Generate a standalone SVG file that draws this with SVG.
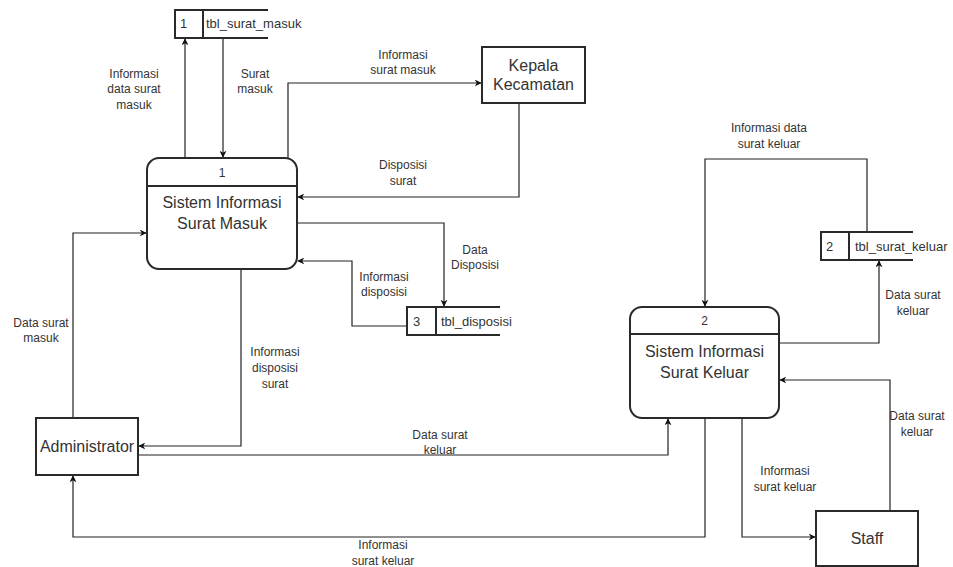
<svg xmlns="http://www.w3.org/2000/svg" width="953" height="567" viewBox="0 0 953 567">
<style>
.bg{fill:#fff}
.node{fill:#fff;stroke:#2a2a2a;stroke-width:2}
.store{fill:none;stroke:#2a2a2a;stroke-width:2}
.edge{fill:none;stroke:#222;stroke-width:1.2}
.t{font-family:"Liberation Sans",Arial,sans-serif;fill:#333;text-anchor:middle}
.lbl{font-size:12px}
.nt{font-size:16px}
.st{font-size:13px;text-anchor:start}
</style>
<defs>
<marker id="arr" viewBox="0 0 10 10" refX="9" refY="5" markerWidth="7" markerHeight="7" orient="auto" markerUnits="userSpaceOnUse">
<path d="M0,0 L10,5 L0,10 L3,5 Z" fill="#111"/>
</marker>
</defs>
<rect class="bg" x="0" y="0" width="953" height="567"/>

<g id="connectors">
<path class="edge" marker-end="url(#arr)" d="M185,158 L185,39"/>
<path class="edge" marker-end="url(#arr)" d="M223,38 L223,157"/>
<path class="edge" marker-end="url(#arr)" d="M288,158 L288,83 L481,83"/>
<path class="edge" marker-end="url(#arr)" d="M519,104 L519,197 L298,197"/>
<path class="edge" marker-end="url(#arr)" d="M297,223 L444,223 L444,306"/>
<path class="edge" marker-end="url(#arr)" d="M407,326 L352,326 L352,261 L298,261"/>
<path class="edge" marker-end="url(#arr)" d="M73,418 L73,233 L146,233"/>
<path class="edge" marker-end="url(#arr)" d="M241,270 L241,446 L139,446"/>
<path class="edge" marker-end="url(#arr)" d="M139,455 L668,455 L668,419"/>
<path class="edge" marker-end="url(#arr)" d="M705,419 L705,537 L73,537 L73,476"/>
<path class="edge" marker-end="url(#arr)" d="M742,419 L742,537 L815,537"/>
<path class="edge" marker-end="url(#arr)" d="M890,511 L890,380 L780,380"/>
<path class="edge" marker-end="url(#arr)" d="M780,343 L879,343 L879,261"/>
<path class="edge" marker-end="url(#arr)" d="M867,232 L867,159 L705,159 L705,306"/>
</g>

<g id="labels">
<text class="t lbl" x="134" y="78">Informasi</text>
<text class="t lbl" x="134" y="93">data surat</text>
<text class="t lbl" x="134" y="109">masuk</text>
<text class="t lbl" x="255" y="78">Surat</text>
<text class="t lbl" x="255" y="93">masuk</text>
<text class="t lbl" x="403" y="59">Informasi</text>
<text class="t lbl" x="403" y="74">surat masuk</text>
<text class="t lbl" x="403" y="169">Disposisi</text>
<text class="t lbl" x="403" y="185">surat</text>
<text class="t lbl" x="475" y="254">Data</text>
<text class="t lbl" x="475" y="269">Disposisi</text>
<text class="t lbl" x="384" y="281">Informasi</text>
<text class="t lbl" x="384" y="296">disposisi</text>
<text class="t lbl" x="41" y="327">Data surat</text>
<text class="t lbl" x="41" y="342">masuk</text>
<text class="t lbl" x="275" y="356">Informasi</text>
<text class="t lbl" x="275" y="372">disposisi</text>
<text class="t lbl" x="275" y="388">surat</text>
<text class="t lbl" x="440" y="439">Data surat</text>
<text class="t lbl" x="440" y="454">keluar</text>
<text class="t lbl" x="383" y="549">Informasi</text>
<text class="t lbl" x="383" y="565">surat keluar</text>
<text class="t lbl" x="769" y="132">Informasi data</text>
<text class="t lbl" x="769" y="148">surat keluar</text>
<text class="t lbl" x="913" y="299">Data surat</text>
<text class="t lbl" x="913" y="315">keluar</text>
<text class="t lbl" x="917" y="420">Data surat</text>
<text class="t lbl" x="917" y="436">keluar</text>
<text class="t lbl" x="785" y="475">Informasi</text>
<text class="t lbl" x="785" y="491">surat keluar</text>
</g>

<g id="store1">
<path class="store" d="M268,10 L175,10 L175,38 L268,38 M203,10 L203,38"/>
<text class="t st" x="180" y="28">1</text>
<text class="t st" x="206" y="28">tbl_surat_masuk</text>
</g>

<g id="kepala">
<rect class="node" x="482" y="47" width="103" height="56" stroke-width="2.5"/>
<text class="t nt" x="533.5" y="71">Kepala</text>
<text class="t nt" x="533.5" y="90">Kecamatan</text>
</g>

<g id="process1">
<rect class="node" x="147" y="158" width="150" height="111" rx="12"/>
<line class="store" x1="147" y1="186" x2="297" y2="186"/>
<text class="t" x="222" y="177" font-size="12">1</text>
<text class="t nt" x="222" y="208">Sistem Informasi</text>
<text class="t nt" x="222" y="229">Surat Masuk</text>
</g>

<g id="store3">
<path class="store" d="M500,307 L407,307 L407,335 L500,335 M436,307 L436,335"/>
<text class="t st" x="413" y="326">3</text>
<text class="t st" x="441" y="326">tbl_disposisi</text>
</g>

<g id="administrator">
<rect class="node" x="36" y="418" width="102" height="57" stroke-width="2.5"/>
<text class="t nt" x="87" y="452">Administrator</text>
</g>

<g id="store2">
<path class="store" d="M913,232 L821,232 L821,260 L913,260 M849,232 L849,260"/>
<text class="t st" x="826" y="251">2</text>
<text class="t st" x="855" y="251">tbl_surat_keluar</text>
</g>

<g id="process2">
<rect class="node" x="630" y="307" width="149" height="111" rx="12"/>
<line class="store" x1="630" y1="334" x2="779" y2="334"/>
<text class="t" x="704.5" y="325" font-size="12">2</text>
<text class="t nt" x="704.5" y="357">Sistem Informasi</text>
<text class="t nt" x="704.5" y="378">Surat Keluar</text>
</g>

<g id="staff">
<rect class="node" x="816" y="511" width="102" height="55"/>
<text class="t nt" x="867" y="544">Staff</text>
</g>
</svg>
